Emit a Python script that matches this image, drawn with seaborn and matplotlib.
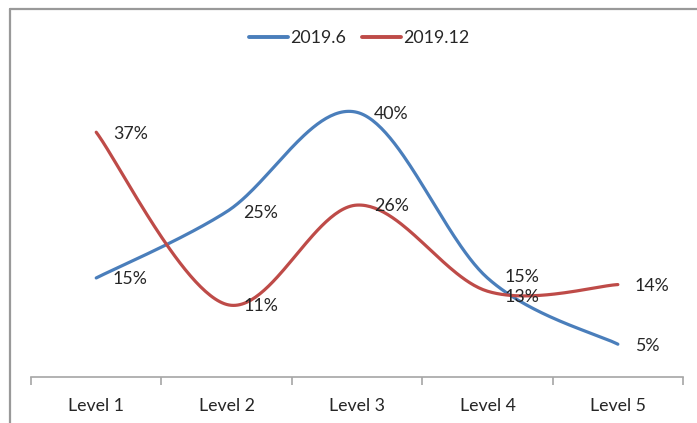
import numpy as np
import pandas as pd
import matplotlib
matplotlib.use("Agg")
import matplotlib.pyplot as plt
from matplotlib.lines import Line2D
import seaborn as sns

categories = ["Level 1", "Level 2", "Level 3", "Level 4", "Level 5"]
series_names = ["2019.6", "2019.12"]
values_jun = [15, 25, 40, 15, 5]
values_dec = [37, 11, 26, 13, 14]
colors = ["#4A7EBB", "#BE4B48"]

sns.set_theme(style="white")
plt.rcParams["font.family"] = ["Lato", "DejaVu Sans"]


def smooth_curve(xs, ys, n=60):
    """Cubic Bezier smoothing through every point (Catmull-Rom style)."""
    pts = np.column_stack([xs, ys]).astype(float)
    ext = np.vstack([pts[0], pts, pts[-1]])
    out = []
    for i in range(len(pts) - 1):
        p0, p1, p2, p3 = ext[i], ext[i + 1], ext[i + 2], ext[i + 3]
        c1 = p1 + (p2 - p0) / 6.0
        c2 = p2 - (p3 - p1) / 6.0
        t = np.linspace(0, 1, n)[:, None]
        seg = ((1 - t) ** 3) * p1 + 3 * ((1 - t) ** 2) * t * c1 \
            + 3 * (1 - t) * t ** 2 * c2 + t ** 3 * p2
        out.append(seg if i == 0 else seg[1:])
    return np.vstack(out)


fig = plt.figure(figsize=(6.97, 4.23), dpi=100)
ax = fig.add_axes([0.0445, 0.108, 0.9355, 0.783])

xpos = np.arange(len(categories))
frames = []
for name, vals in zip(series_names, [values_jun, values_dec]):
    curve = smooth_curve(xpos, vals)
    frames.append(pd.DataFrame({"x": curve[:, 0], "y": curve[:, 1],
                                "order": np.arange(len(curve)),
                                "series": name}))
df = pd.concat(frames, ignore_index=True)

sns.lineplot(data=df, x="x", y="y", hue="series", units="series",
             estimator=None, sort=False, palette=colors, linewidth=2.3,
             ax=ax, legend=False)

# value labels to the right of each point; the two close labels at Level 4
# are pushed slightly apart
nudge = {(0, 3): 1.5, (1, 3): -3.5}
for si, vals in enumerate([values_jun, values_dec]):
    for xi, v in zip(xpos, vals):
        dy = -1 + nudge.get((si, int(xi)), 0)
        ax.annotate(f"{v}%", (xi, v), xytext=(12, dy), textcoords="offset points",
                    ha="left", va="center", fontsize=12.8, color="#262626")

ax.set_xlim(-0.5, len(categories) - 0.5)
ax.set_ylim(0, 50)
ax.set_yticks([])
ax.set_xticks(xpos)
ax.set_xticklabels(categories, fontsize=12.8, color="#262626")
ax.tick_params(axis="x", which="major", length=0, pad=15)
ax.set_xticks(np.arange(len(categories) + 1) - 0.5, minor=True)
ax.tick_params(axis="x", which="minor", bottom=True, length=6, width=1.2,
               color="#A6A6A6", direction="out")
ax.set_xlabel("")
ax.set_ylabel("")
for side in ["top", "right", "left"]:
    ax.spines[side].set_visible(False)
ax.spines["bottom"].set_color("#A6A6A6")
ax.spines["bottom"].set_linewidth(1.2)

handles = [Line2D([0], [0], color=c, linewidth=2.8) for c in colors]
fig.legend(handles, series_names, loc="center", bbox_to_anchor=(0.515, 0.91),
           ncol=2, frameon=False, fontsize=12.8, handlelength=2.2,
           handletextpad=0.1, columnspacing=0.9)

# chart frame
fig.add_artist(Line2D([9.5 / 697, 9.5 / 697], [0, 1 - 9.5 / 423],
                      transform=fig.transFigure, color="#999999", linewidth=1.6))
fig.add_artist(Line2D([9.5 / 697, 1], [1 - 9.5 / 423, 1 - 9.5 / 423],
                      transform=fig.transFigure, color="#999999", linewidth=1.6))

fig.savefig("out.png", dpi=100, facecolor="white")
